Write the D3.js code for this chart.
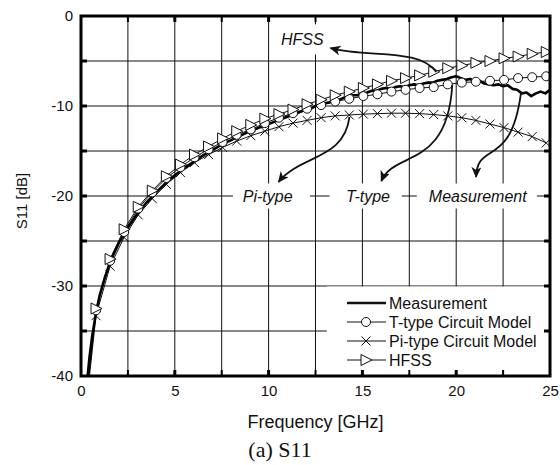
<!DOCTYPE html>
<html>
<head>
<meta charset="utf-8">
<script src="https://cdn.jsdelivr.net/npm/d3@7"></script>
<style>
body { margin: 0; background: #fff; }
text { font-family: "Liberation Sans", Arial, sans-serif; fill: #111; }
</style>
</head>
<body>
<div id="content"></div>
<script>
// model curves share these frequencies (first point has no marker)
var model_freq = [0.4, 0.8, 1.55, 2.3, 3.05, 3.8, 4.55, 5.3, 6.05, 6.8, 7.55, 8.3, 9.05, 9.8,
    10.55, 11.3, 12.05, 12.8, 13.55, 14.3, 15.05, 15.8, 16.55, 17.3, 18.05, 18.8, 19.55,
    20.3, 21.05, 21.8, 22.55, 23.3, 24.05, 24.8];
var t_type_db = [-40.5, -32.7, -27.2, -24.0, -21.4, -19.6, -18.0, -16.8, -15.7, -14.8, -14.0, -13.2,
    -12.6, -11.9, -11.3, -10.8, -10.3, -9.9, -9.5, -9.2, -8.9, -8.7, -8.4, -8.2, -8.0, -7.9,
    -7.6, -7.4, -7.3, -7.2, -7.1, -6.9, -6.8, -6.7];
var pi_type_db = [-41, -33.3, -27.8, -24.6, -22.1, -20.3, -18.7, -17.4, -16.3, -15.4, -14.6, -13.9,
    -13.3, -12.8, -12.3, -11.9, -11.6, -11.3, -11.1, -11.0, -10.9, -10.85, -10.8, -10.8, -10.85,
    -10.95, -11.1, -11.3, -11.6, -12.0, -12.4, -12.9, -13.4, -14.1];
var hfss_db = [-40.3, -32.5, -27.0, -23.7, -21.2, -19.4, -17.8, -16.5, -15.4, -14.5, -13.6, -12.8,
    -12.1, -11.4, -10.9, -10.4, -9.8, -9.3, -8.8, -8.4, -8.0, -7.6, -7.2, -6.9, -6.6, -6.2,
    -5.8, -5.5, -5.2, -5.0, -4.7, -4.5, -4.2, -4.0];

var meas_freq = [0.33, 0.45, 0.6, 0.8, 1.0, 1.25, 1.5, 1.75, 2.0, 2.5, 3.0, 3.5, 4.0, 4.5, 5.0,
    5.5, 6.0, 6.5, 7.0, 7.5, 8.0, 8.5, 9.0, 9.5, 10.0, 10.5, 11.0, 11.5, 12.0, 12.25, 12.5,
    12.75, 13.0, 13.25, 13.5, 13.75, 14.0, 14.25, 14.5, 14.75, 15.0, 15.25, 15.5, 15.75, 16.0,
    16.25, 16.5, 16.75, 17.0, 17.25, 17.5, 17.75, 18.0, 18.25, 18.5, 18.75, 19.0, 19.25, 19.5,
    19.75, 20.0, 20.25, 20.5, 20.75, 21.0, 21.25, 21.5, 21.75, 22.0, 22.25, 22.5, 22.75, 23.0,
    23.25, 23.5, 23.75, 24.0, 24.25, 24.5, 24.75, 25.0];
var meas_db = [-40.5, -38, -35.5, -33, -31, -29.2, -27.7, -26.4, -25.3, -23.5, -22.0, -20.7, -19.6,
    -18.6, -17.7, -16.9, -16.2, -15.5, -14.9, -14.3, -13.8, -13.3, -12.8, -12.4, -12.0, -11.6,
    -11.2, -10.8, -10.4, -10.3, -10.0, -9.9, -9.7, -9.6, -9.4, -9.3, -9.1, -9.0, -8.8, -8.8,
    -8.6, -8.5, -8.3, -8.3, -8.1, -8.0, -8.1, -7.9, -7.8, -7.9, -7.7, -7.6, -7.7, -7.5, -7.4,
    -7.4, -7.2, -7.1, -7.0, -6.8, -6.7, -6.9, -7.1, -7.0, -7.3, -7.2, -7.5, -7.6, -7.7, -7.6,
    -7.8, -7.7, -8.1, -8.2, -8.6, -8.5, -8.9, -8.6, -8.4, -8.6, -8.2];

var x_ticks = [0, 5, 10, 15, 20, 25];
var y_ticks = [0, -10, -20, -30, -40];
var legend_names = ["Measurement", "T-type Circuit Model", "Pi-type Circuit Model", "HFSS"];

// callout labels: text, centre (GHz, dB), white box extent in GHz
var callouts = [
    {text: "HFSS", f: 11.8, db: -2.6, f0: 10.4, f1: 13.25, h: 30},
    {text: "Pi-type", f: 9.95, db: -20, f0: 8.1, f1: 12.2, h: 25},
    {text: "T-type", f: 15.3, db: -20, f0: 13.25, f1: 17.1, h: 25},
    {text: "Measurement", f: 21.15, db: -20, f0: 17.9, f1: 24.3, h: 25}
];
// curved arrows as cubic curves: start, c1, c2, tip (GHz, dB)
var arrows = [
    [[18.94, -6.22], [18.03, -3.56], [15.37, -4.67], [13.30, -3.56]],
    [[14.31, -11.22], [14.04, -16.0], [11.65, -15.44], [10.53, -18.44]],
    [[19.79, -7.67], [19.52, -17.11], [16.7, -14.89], [16.01, -18.33]],
    [[23.46, -8.44], [22.93, -17.11], [21.12, -13.78], [21.06, -17.89]]
];

function zip(fs, vs){
    return fs.map(function(f, i){ return [f, vs[i]]; });
}

function draw_marker(g, kind, cx, cy){
    if(kind == "circle"){
        g.append("circle").attr("cx", cx).attr("cy", cy).attr("r", 4.5)
            .attr("fill", "#fff").attr("stroke", "#111").attr("stroke-width", 1);
    }
    else if(kind == "cross"){
        var s = 4.5;
        g.append("path")
            .attr("d", "M" + (cx - s) + "," + (cy - s) + "L" + (cx + s) + "," + (cy + s) +
                  "M" + (cx - s) + "," + (cy + s) + "L" + (cx + s) + "," + (cy - s))
            .attr("stroke", "#111").attr("stroke-width", 1).attr("fill", "none");
    }
    else if(kind == "tri"){
        g.append("path")
            .attr("d", "M" + (cx - 5) + "," + (cy - 5.5) + "L" + (cx + 6) + "," + cy +
                  "L" + (cx - 5) + "," + (cy + 5.5) + "Z")
            .attr("fill", "#fff").attr("stroke", "#111").attr("stroke-width", 1);
    }
}

var W = 560, H = 465;
var svg = d3.select("#content").append("svg").attr("width", W).attr("height", H);
var x = d3.scaleLinear().domain([0, 25]).range([81, 550]);
var y = d3.scaleLinear().domain([-40, 0]).range([376, 16]);

svg.append("defs").append("clipPath").attr("id", "plot-clip")
    .append("rect").attr("x", x(0)).attr("y", y(0))
    .attr("width", x(25) - x(0)).attr("height", y(-40) - y(0));
svg.select("defs").append("marker")
    .attr("id", "arrowhead").attr("markerUnits", "userSpaceOnUse")
    .attr("markerWidth", 14).attr("markerHeight", 12)
    .attr("refX", 10).attr("refY", 5).attr("orient", "auto")
    .append("path").attr("d", "M0,0 L11,5 L0,10 L3,5 Z").attr("fill", "#111");

// grid
var grid = svg.append("g");
grid.selectAll("line.v").data(d3.range(2.5, 25, 2.5)).enter().append("line")
    .attr("x1", function(d){ return x(d); }).attr("x2", function(d){ return x(d); })
    .attr("y1", y(0)).attr("y2", y(-40))
    .attr("stroke", "#111").attr("stroke-width", 1);
grid.selectAll("line.h").data(d3.range(-35, 0, 5)).enter().append("line")
    .attr("x1", x(0)).attr("x2", x(25))
    .attr("y1", function(d){ return y(d); }).attr("y2", function(d){ return y(d); })
    .attr("stroke", "#111").attr("stroke-width", 1);

// white boxes behind callouts and legend
svg.append("g").selectAll("rect").data(callouts).enter().append("rect")
    .attr("x", function(c){ return x(c.f0); })
    .attr("width", function(c){ return x(c.f1) - x(c.f0); })
    .attr("y", function(c){ return y(c.db) - c.h / 2; })
    .attr("height", function(c){ return c.h; })
    .attr("fill", "#fff");
svg.append("rect").attr("x", x(13.1)).attr("y", y(-30) + 0.5)
    .attr("width", x(25) - x(13.1)).attr("height", y(-40) - y(-30) - 0.5)
    .attr("fill", "#fff");

// curves
var line = d3.line().x(function(d){ return x(d[0]); }).y(function(d){ return y(d[1]); });
var curves = svg.append("g").attr("clip-path", "url(#plot-clip)");
var models = [
    {db: pi_type_db, kind: "cross"},
    {db: t_type_db, kind: "circle"},
    {db: hfss_db, kind: "tri"}
];
models.forEach(function(m){
    curves.append("path").datum(zip(model_freq, m.db)).attr("d", line)
        .attr("fill", "none").attr("stroke", "#111").attr("stroke-width", 1);
});
curves.append("path").datum(zip(meas_freq, meas_db)).attr("d", line)
    .attr("fill", "none").attr("stroke", "#000").attr("stroke-width", 2.6)
    .attr("stroke-linejoin", "round");
models.forEach(function(m){
    var g = curves.append("g");
    model_freq.forEach(function(f, i){
        if(i == 0) return;
        draw_marker(g, m.kind, x(f), y(m.db[i]));
    });
});

// arrows
svg.append("g").selectAll("path").data(arrows).enter().append("path")
    .attr("d", function(a){
        var p = d3.path();
        p.moveTo(x(a[0][0]), y(a[0][1]));
        p.bezierCurveTo(x(a[1][0]), y(a[1][1]), x(a[2][0]), y(a[2][1]), x(a[3][0]), y(a[3][1]));
        return p.toString();
    })
    .attr("fill", "none").attr("stroke", "#111").attr("stroke-width", 1.8)
    .attr("marker-end", "url(#arrowhead)");

svg.append("g").selectAll("text").data(callouts).enter().append("text")
    .attr("x", function(c){ return x(c.f); })
    .attr("y", function(c){ return y(c.db); })
    .attr("dy", "0.36em")
    .attr("text-anchor", "middle")
    .attr("font-style", "italic")
    .attr("font-size", 16)
    .text(function(c){ return c.text; });

// legend
var leg = svg.append("g");
var kinds = ["thick", "circle", "cross", "tri"];
legend_names.forEach(function(name, i){
    var ly = 303 + i * 19;
    leg.append("line").attr("x1", 347).attr("x2", 386).attr("y1", ly).attr("y2", ly)
        .attr("stroke", "#111").attr("stroke-width", i == 0 ? 2.6 : 1);
    if(i > 0) draw_marker(leg, kinds[i], 366, ly);
    leg.append("text").attr("x", 389).attr("y", ly).attr("dy", "0.36em")
        .attr("font-size", 16).text(name);
});

// frame and ticks
svg.append("rect").attr("x", x(0)).attr("y", y(0))
    .attr("width", x(25) - x(0)).attr("height", y(-40) - y(0))
    .attr("fill", "none").attr("stroke", "#000").attr("stroke-width", 3);
var ticks = svg.append("g").attr("stroke", "#000");
d3.range(2.5, 25, 2.5).forEach(function(f){
    var w = (f % 5 == 0) ? 3 : 2;
    ticks.append("line").attr("x1", x(f)).attr("x2", x(f)).attr("y1", y(0)).attr("y2", y(0) + 6)
        .attr("stroke-width", w);
    ticks.append("line").attr("x1", x(f)).attr("x2", x(f)).attr("y1", y(-40)).attr("y2", y(-40) - 6)
        .attr("stroke-width", w);
});
d3.range(-35, 0, 5).forEach(function(v){
    ticks.append("line").attr("x1", x(0)).attr("x2", x(0) + 6).attr("y1", y(v)).attr("y2", y(v))
        .attr("stroke-width", 3);
    ticks.append("line").attr("x1", x(25)).attr("x2", x(25) - 6).attr("y1", y(v)).attr("y2", y(v))
        .attr("stroke-width", 3);
});

// tick labels (plain hyphen for negatives, as in the figure)
var plain = function(d){ return String(d); };
var xa = svg.append("g").attr("transform", "translate(0," + y(-40) + ")")
    .call(d3.axisBottom(x).tickValues(x_ticks).tickSize(0).tickPadding(9).tickFormat(plain));
var ya = svg.append("g").attr("transform", "translate(" + x(0) + ",0)")
    .call(d3.axisLeft(y).tickValues(y_ticks).tickSize(0).tickPadding(8).tickFormat(plain));
[xa, ya].forEach(function(a){
    a.select(".domain").remove();
    a.selectAll("text").attr("font-family", "Liberation Sans, Arial, sans-serif")
        .attr("font-size", 15).attr("fill", "#111");
});

svg.append("text").attr("x", (x(0) + x(25)) / 2).attr("y", 428)
    .attr("text-anchor", "middle").attr("font-size", 18).text("Frequency [GHz]");
svg.append("text").attr("transform", "translate(27,201) rotate(-90)")
    .attr("text-anchor", "middle").attr("font-size", 15).text("S11 [dB]");
svg.append("text").attr("x", 280).attr("y", 457)
    .attr("text-anchor", "middle").attr("font-size", 22)
    .style("font-family", "Liberation Serif, Times New Roman, serif")
    .text("(a) S11");
</script>
</body>
</html>
